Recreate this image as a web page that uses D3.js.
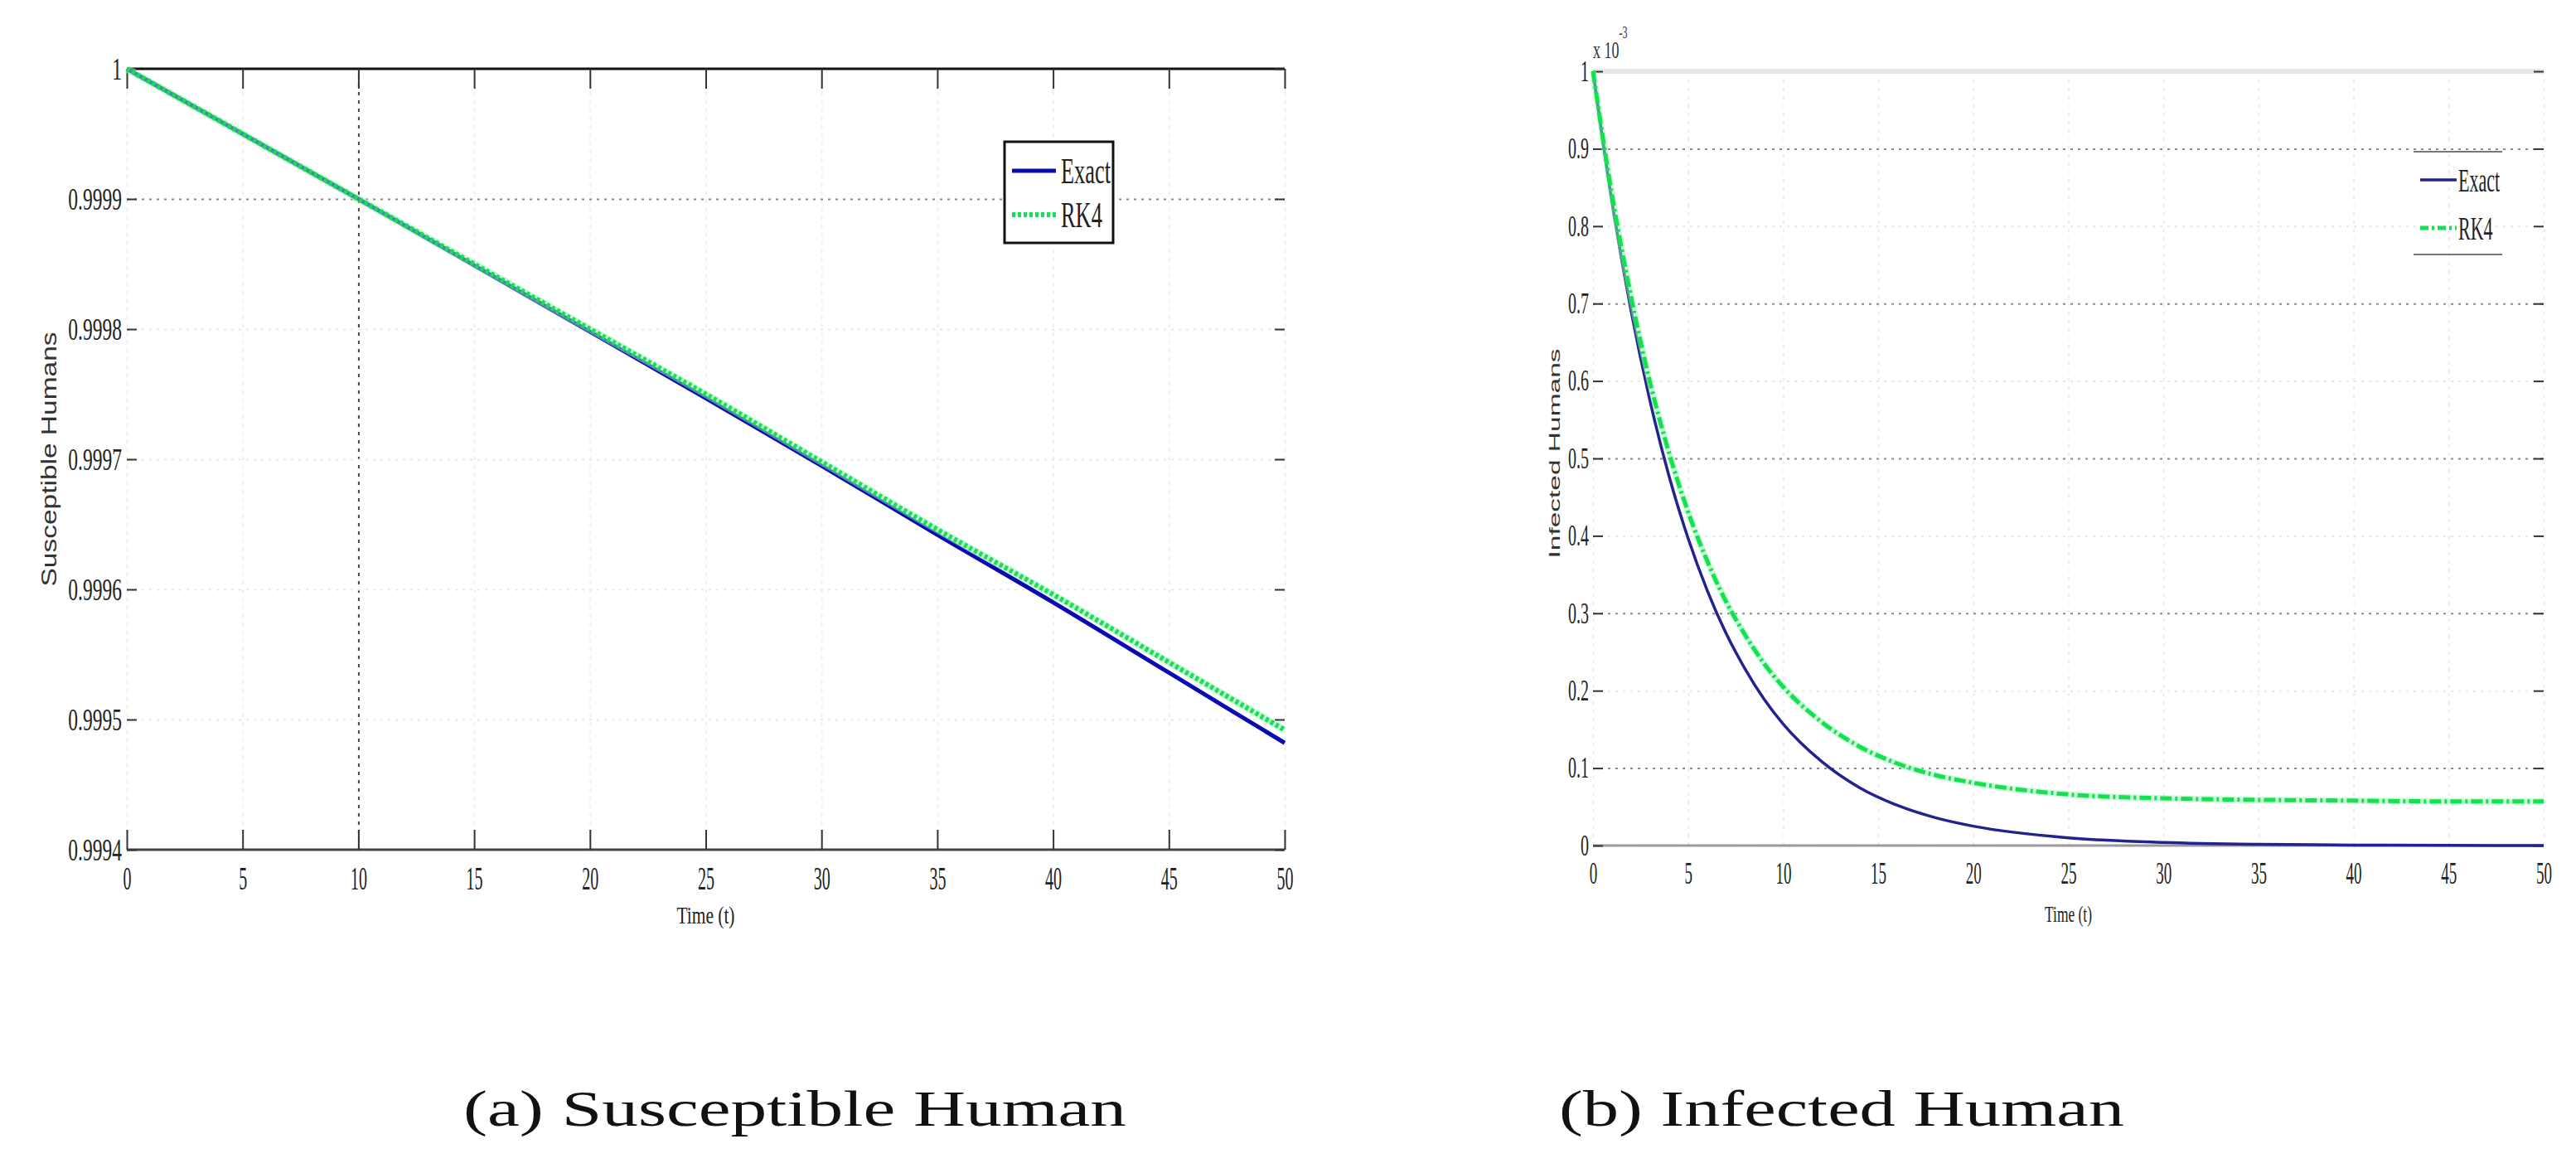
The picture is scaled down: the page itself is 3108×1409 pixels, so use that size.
<!DOCTYPE html>
<html>
<head>
<meta charset="utf-8">
<script src="https://cdn.jsdelivr.net/npm/d3@7"></script>
<style>
  body { margin: 0; background: #fff; }
</style>
</head>
<body>
<div id="fig"></div>
<script>
// values
const xTicks = [0, 5, 10, 15, 20, 25, 30, 35, 40, 45, 50];

const tS = [0, 5, 10, 15, 20, 25, 30, 35, 40, 45, 50];
const exactS = [1, 0.99995, 0.9999, 0.999849, 0.999798, 0.999747, 0.999695, 0.999642, 0.99959, 0.999536, 0.999482];
const rk4S = [1, 0.99995, 0.9999, 0.99985, 0.9998, 0.99975, 0.999698, 0.999646, 0.999596, 0.999544, 0.999492];
const yTicksS = [0.9994, 0.9995, 0.9996, 0.9997, 0.9998, 0.9999, 1];

const tI = [0, 1, 2, 3, 4, 5, 6, 7, 8, 9, 10, 12, 14, 16, 18, 20, 25, 30, 35, 40, 45, 50];
const exactI = [1, 0.831, 0.691, 0.574, 0.477, 0.397, 0.330, 0.274, 0.228, 0.189, 0.157, 0.109, 0.075, 0.052, 0.036, 0.025, 0.010, 0.004, 0.0015, 0.0006, 0.0002, 0.0001];
const rk4I = [1, 0.840, 0.709, 0.598, 0.507, 0.431, 0.368, 0.315, 0.272, 0.235, 0.205, 0.160, 0.128, 0.106, 0.091, 0.081, 0.066, 0.061, 0.059, 0.058, 0.057, 0.057];
const yTicksI = [0, 0.1, 0.2, 0.3, 0.4, 0.5, 0.6, 0.7, 0.8, 0.9, 1];

const legendLabels = ["Exact", "RK4"];
const captions = ["(a) Susceptible Human", "(b) Infected Human"];

const svg = d3.select("#fig")
    .append("svg")
    .attr("width", 3108)
    .attr("height", 1409);

function panel(o) {
    const g = svg.append("g")
        .attr("transform", `translate(${o.left},${o.top})`);

    const x = d3.scaleLinear().domain([0, 50]).range([0, o.w]);
    const y = d3.scaleLinear().domain(o.yDomain).range([o.h, 0]);

    // grid
    g.append("g")
        .attr("transform", `translate(0,${o.h})`)
        .call(d3.axisBottom(x).tickValues(xTicks).tickSize(-o.h).tickFormat(""))
        .call(s => s.select(".domain").remove())
        .selectAll("line")
        .attr("stroke", d => o.darkX.includes(d) ? "#444" : "#eeeeee")
        .attr("stroke-width", 2)
        .attr("stroke-dasharray", "4 6");

    g.append("g")
        .call(d3.axisLeft(y).tickValues(o.yTicks).tickSize(-o.w).tickFormat(""))
        .call(s => s.select(".domain").remove())
        .selectAll("line")
        .attr("stroke", d => o.darkY.includes(d) ? "#8a8a8a" : "#e8e8e8")
        .attr("stroke-width", 2)
        .attr("stroke-dasharray", "3 6");

    // top and bottom frame lines
    g.append("line")
        .attr("x1", 0).attr("x2", o.w).attr("y1", 0).attr("y2", 0)
        .attr("stroke", o.topColor).attr("stroke-width", o.topWidth);
    g.append("line")
        .attr("x1", 0).attr("x2", o.w).attr("y1", o.h).attr("y2", o.h)
        .attr("stroke", o.bottomColor).attr("stroke-width", 3);

    // x ticks + labels
    const xa = g.append("g")
        .attr("transform", `translate(0,${o.h})`)
        .call(d3.axisBottom(x).tickValues(xTicks).tickSizeInner(-o.xTick).tickSizeOuter(0));
    xa.select(".domain").remove();
    xa.selectAll("line").attr("stroke", "#333").attr("stroke-width", 2);
    xa.selectAll("text")
        .attr("y", o.xLabY)
        .attr("dy", null)
        .attr("transform", `scale(${o.xSx},1)`)
        .style("font-family", "'Liberation Serif', serif")
        .style("font-size", o.xFont + "px")
        .attr("fill", "#222");

    const xt = g.append("g")
        .call(d3.axisTop(x).tickValues(xTicks).tickSizeInner(-o.xTick).tickSizeOuter(0).tickFormat(""));
    xt.select(".domain").remove();
    xt.selectAll("line").attr("stroke", "#333").attr("stroke-width", 2);

    // y ticks + labels
    const ya = g.append("g")
        .call(d3.axisLeft(y).tickValues(o.yTicks).tickSizeInner(-12).tickSizeOuter(0).tickFormat(o.fmt));
    ya.select(".domain").remove();
    ya.selectAll("line").attr("stroke", "#333").attr("stroke-width", 2);
    ya.selectAll("text")
        .attr("x", -o.yPad / o.ySx)
        .attr("transform", `scale(${o.ySx},1)`)
        .style("font-family", "'Liberation Serif', serif")
        .style("font-size", o.yFont + "px")
        .attr("fill", "#222");

    const yr = g.append("g")
        .attr("transform", `translate(${o.w},0)`)
        .call(d3.axisRight(y).tickValues(o.yTicks).tickSizeInner(-12).tickSizeOuter(0).tickFormat(""));
    yr.select(".domain").remove();
    yr.selectAll("line").attr("stroke", "#333").attr("stroke-width", 2);

    // curves
    const line = d3.line()
        .x((d, i) => x(o.t[i]))
        .y(d => y(d))
        .curve(d3.curveMonotoneX);

    g.append("path")
        .datum(o.exact)
        .attr("fill", "none")
        .attr("stroke", o.exactColor)
        .attr("stroke-width", o.exactWidth)
        .attr("d", line);

    g.append("path")
        .datum(o.rk4)
        .attr("fill", "none")
        .attr("stroke", "#9af5b8")
        .attr("stroke-width", o.rk4Width + 3)
        .attr("opacity", 0.5)
        .attr("d", line);

    g.append("path")
        .datum(o.rk4)
        .attr("fill", "none")
        .attr("stroke", "#14e050")
        .attr("stroke-width", o.rk4Width)
        .attr("stroke-dasharray", o.rk4Dash)
        .attr("d", line);

    // axis titles
    svg.append("text")
        .attr("transform", `translate(${o.yLab[0]},${o.yLab[1]}) rotate(-90)`)
        .attr("text-anchor", "middle")
        .attr("textLength", o.yLab[2])
        .attr("lengthAdjust", "spacingAndGlyphs")
        .style("font-family", "'Liberation Sans', Arial, sans-serif")
        .style("font-size", o.yLab[3] + "px")
        .attr("fill", "#333")
        .text(o.yTitle);

    svg.append("text")
        .attr("x", o.left + o.w / 2)
        .attr("y", o.xLab[0])
        .attr("text-anchor", "middle")
        .attr("textLength", o.xLab[1])
        .attr("lengthAdjust", "spacingAndGlyphs")
        .style("font-family", "'Liberation Serif', serif")
        .style("font-size", o.xLab[2] + "px")
        .attr("fill", "#222")
        .text("Time (t)");

    return { g, x, y };
}

const left = panel({
    left: 153, top: 83, w: 1397, h: 942,
    yDomain: [0.9994, 1], yTicks: yTicksS,
    fmt: d => d === 1 ? "1" : d3.format(".4f")(d),
    darkX: [10], darkY: [0.9999],
    topColor: "#111", topWidth: 3, bottomColor: "#444",
    xTick: 24, xLabY: 48, xFont: 40, xSx: 0.5,
    yPad: 6, yFont: 38, ySx: 0.62,
    t: tS, exact: exactS, rk4: rk4S,
    exactColor: "#0a0ab4", exactWidth: 5, rk4Width: 6, rk4Dash: "4 3",
    yTitle: "Susceptible Humans", yLab: [68, 554, 307, 25],
    xLab: [1114, 70, 30]
});

const right = panel({
    left: 1922, top: 86, w: 1147, h: 934,
    yDomain: [0, 1], yTicks: yTicksI,
    fmt: d => (d === 0 || d === 1) ? String(d) : d3.format(".1f")(d),
    darkX: [], darkY: [0.9, 0.7, 0.5, 0.3, 0.1],
    topColor: "#e6e6e6", topWidth: 6, bottomColor: "#9a9a9a",
    xTick: 0, xLabY: 46, xFont: 38, xSx: 0.5,
    yPad: 5, yFont: 35, ySx: 0.57,
    t: tI, exact: exactI, rk4: rk4I,
    exactColor: "#23238f", exactWidth: 3.5, rk4Width: 5, rk4Dash: "14 4 3 4",
    yTitle: "Infected Humans", yLab: [1882, 547, 253, 18],
    xLab: [1112, 57, 28]
});

// exponent label on the right panel
const expo = svg.append("text")
    .attr("x", 1922)
    .attr("y", 70)
    .style("font-family", "'Liberation Serif', serif")
    .style("font-size", "30px")
    .attr("fill", "#333")
    .attr("transform", "translate(1922,0) scale(0.6,1) translate(-1922,0)");
expo.append("tspan").text("x 10");
expo.append("tspan").attr("dy", -24).style("font-size", "20px").text("-3");

// legend, left panel: boxed
const legL = svg.append("g").attr("transform", "translate(1212,171)");
legL.append("rect")
    .attr("width", 131).attr("height", 122)
    .attr("fill", "#fff").attr("stroke", "#111").attr("stroke-width", 3);
const legR = svg.append("g").attr("transform", "translate(2912,183)");
legR.append("line").attr("x1", 0).attr("x2", 107).attr("y1", 0).attr("y2", 0)
    .attr("stroke", "#777").attr("stroke-width", 2);
legR.append("line").attr("x1", 0).attr("x2", 107).attr("y1", 124).attr("y2", 124)
    .attr("stroke", "#777").attr("stroke-width", 2);

function legendItems(leg, o) {
    const items = leg.selectAll("g.item")
        .data(legendLabels)
        .join("g")
        .attr("class", "item")
        .attr("transform", (d, i) => `translate(0,${o.y0 + i * o.dy})`);
    items.append("line")
        .attr("x1", o.x1).attr("x2", o.x2)
        .attr("stroke", (d, i) => i === 0 ? o.exactColor : "#14e050")
        .attr("stroke-width", (d, i) => i === 0 ? o.exactWidth : o.rk4Width)
        .attr("stroke-dasharray", (d, i) => i === 0 ? null : o.rk4Dash);
    items.append("text")
        .attr("x", o.tx / o.sx)
        .attr("dy", "0.35em")
        .attr("transform", `scale(${o.sx},1)`)
        .style("font-family", "'Liberation Serif', serif")
        .style("font-size", o.font + "px")
        .attr("fill", "#222")
        .text(d => d);
}

legendItems(legL, { y0: 35, dy: 53, x1: 9, x2: 62, tx: 68, sx: 0.6, font: 44,
    exactColor: "#0a0ab4", exactWidth: 5, rk4Width: 6, rk4Dash: "4 3" });
legendItems(legR, { y0: 34, dy: 58, x1: 8, x2: 52, tx: 54, sx: 0.55, font: 40,
    exactColor: "#23238f", exactWidth: 3.5, rk4Width: 5, rk4Dash: "10 4 3 4" });

// captions
const capPos = [[959, 800], [2222, 682]];
svg.selectAll("text.caption")
    .data(captions)
    .join("text")
    .attr("class", "caption")
    .attr("x", (d, i) => capPos[i][0])
    .attr("y", 1358)
    .attr("text-anchor", "middle")
    .attr("textLength", (d, i) => capPos[i][1])
    .attr("lengthAdjust", "spacingAndGlyphs")
    .style("font-family", "'Liberation Serif', serif")
    .style("font-size", "62px")
    .attr("fill", "#111")
    .text(d => d);
</script>
</body>
</html>
